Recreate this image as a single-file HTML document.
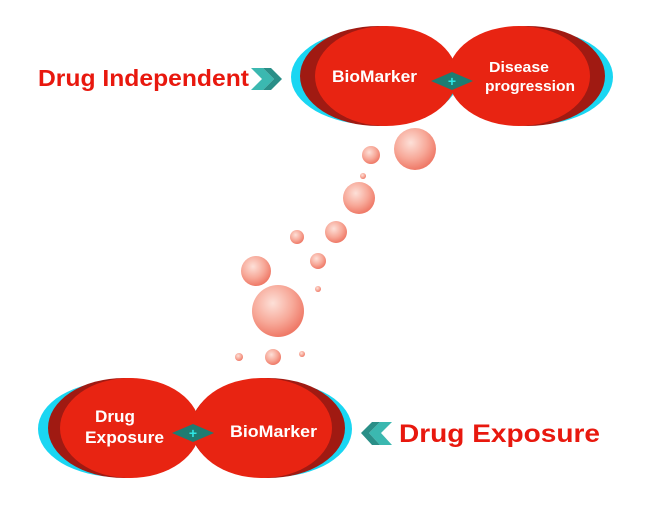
<!DOCTYPE html>
<html><head><style>
body{margin:0;background:#fff;width:650px;height:500px;overflow:hidden}
text{font-family:"Liberation Sans",Arial,sans-serif;font-weight:bold}
</style></head><body>
<svg width="650" height="500" viewBox="0 0 650 500" xmlns="http://www.w3.org/2000/svg">
<defs>
<radialGradient id="b" cx="0.4" cy="0.35" r="0.65">
<stop offset="0" stop-color="#fde0d8"/><stop offset="0.6" stop-color="#f7a898"/><stop offset="1" stop-color="#ef7a68"/>
</radialGradient>
</defs>
<!-- top -->
<ellipse cx="375" cy="77" rx="84" ry="48" fill="#1ad6f2"/>
<ellipse cx="532" cy="77" rx="81" ry="48" fill="#1ad6f2"/>
<ellipse cx="378" cy="76" rx="78" ry="50" fill="#a01a12"/>
<ellipse cx="528" cy="76" rx="77" ry="50" fill="#a01a12"/>
<ellipse cx="386" cy="76" rx="71" ry="50" fill="#e82412"/>
<ellipse cx="519" cy="76" rx="71" ry="50" fill="#e82412"/>
<polygon points="431,81 452,72 473,81 452,90" fill="#1e7c72"/>
<text x="452" y="86" font-size="14" fill="#2ee6e6" text-anchor="middle">+</text>
<text x="332" y="82" font-size="17" fill="#fff" textLength="85" lengthAdjust="spacingAndGlyphs">BioMarker</text>
<text x="489" y="72" font-size="15" fill="#fff" textLength="60" lengthAdjust="spacingAndGlyphs">Disease</text>
<text x="485" y="91" font-size="15" fill="#fff" textLength="90" lengthAdjust="spacingAndGlyphs">progression</text>
<text x="38" y="86" font-size="23" fill="#e8180e" textLength="211" lengthAdjust="spacingAndGlyphs">Drug Independent</text>
<polygon points="251,68 263,68 274,79 263,90 251,90 262,79" fill="#3bb8b0"/>
<polygon points="263,68 271,68 282,79 271,90 263,90 274,79" fill="#2a8f88"/>
<!-- bottom -->
<ellipse cx="118" cy="429" rx="80" ry="48" fill="#1ad6f2"/>
<ellipse cx="273" cy="429" rx="79" ry="48" fill="#1ad6f2"/>
<ellipse cx="124" cy="428" rx="76" ry="50" fill="#a01a12"/>
<ellipse cx="268" cy="428" rx="77" ry="50" fill="#a01a12"/>
<ellipse cx="130" cy="428" rx="70" ry="50" fill="#e82412"/>
<ellipse cx="262" cy="428" rx="70" ry="50" fill="#e82412"/>
<polygon points="172,433 193,424 214,433 193,442 " fill="#1e7c72"/>
<text x="193" y="438" font-size="14" fill="#2ee6e6" text-anchor="middle">+</text>
<text x="95" y="422" font-size="17" fill="#fff" textLength="40" lengthAdjust="spacingAndGlyphs">Drug</text>
<text x="85" y="443" font-size="17" fill="#fff" textLength="79" lengthAdjust="spacingAndGlyphs">Exposure</text>
<text x="230" y="437" font-size="17" fill="#fff" textLength="87" lengthAdjust="spacingAndGlyphs">BioMarker</text>
<text x="399" y="442" font-size="25" fill="#e8180e" textLength="201" lengthAdjust="spacingAndGlyphs">Drug Exposure</text>
<polygon points="392,422 380,422 369,433 380,445 392,445 381,433" fill="#3bb8b0"/>
<polygon points="380,422 372,422 361,433 372,445 380,445 369,433" fill="#2a8f88"/>
<!-- bubbles -->
<g fill="url(#b)">
<circle cx="415" cy="149" r="21"/><circle cx="371" cy="155" r="9"/><circle cx="363" cy="176" r="3"/>
<circle cx="359" cy="198" r="16"/><circle cx="336" cy="232" r="11"/><circle cx="297" cy="237" r="7"/>
<circle cx="318" cy="261" r="8"/><circle cx="256" cy="271" r="15"/><circle cx="318" cy="289" r="3"/>
<circle cx="278" cy="311" r="26"/><circle cx="239" cy="357" r="4"/><circle cx="273" cy="357" r="8"/>
<circle cx="302" cy="354" r="3"/>
</g>
</svg>
</body></html>
